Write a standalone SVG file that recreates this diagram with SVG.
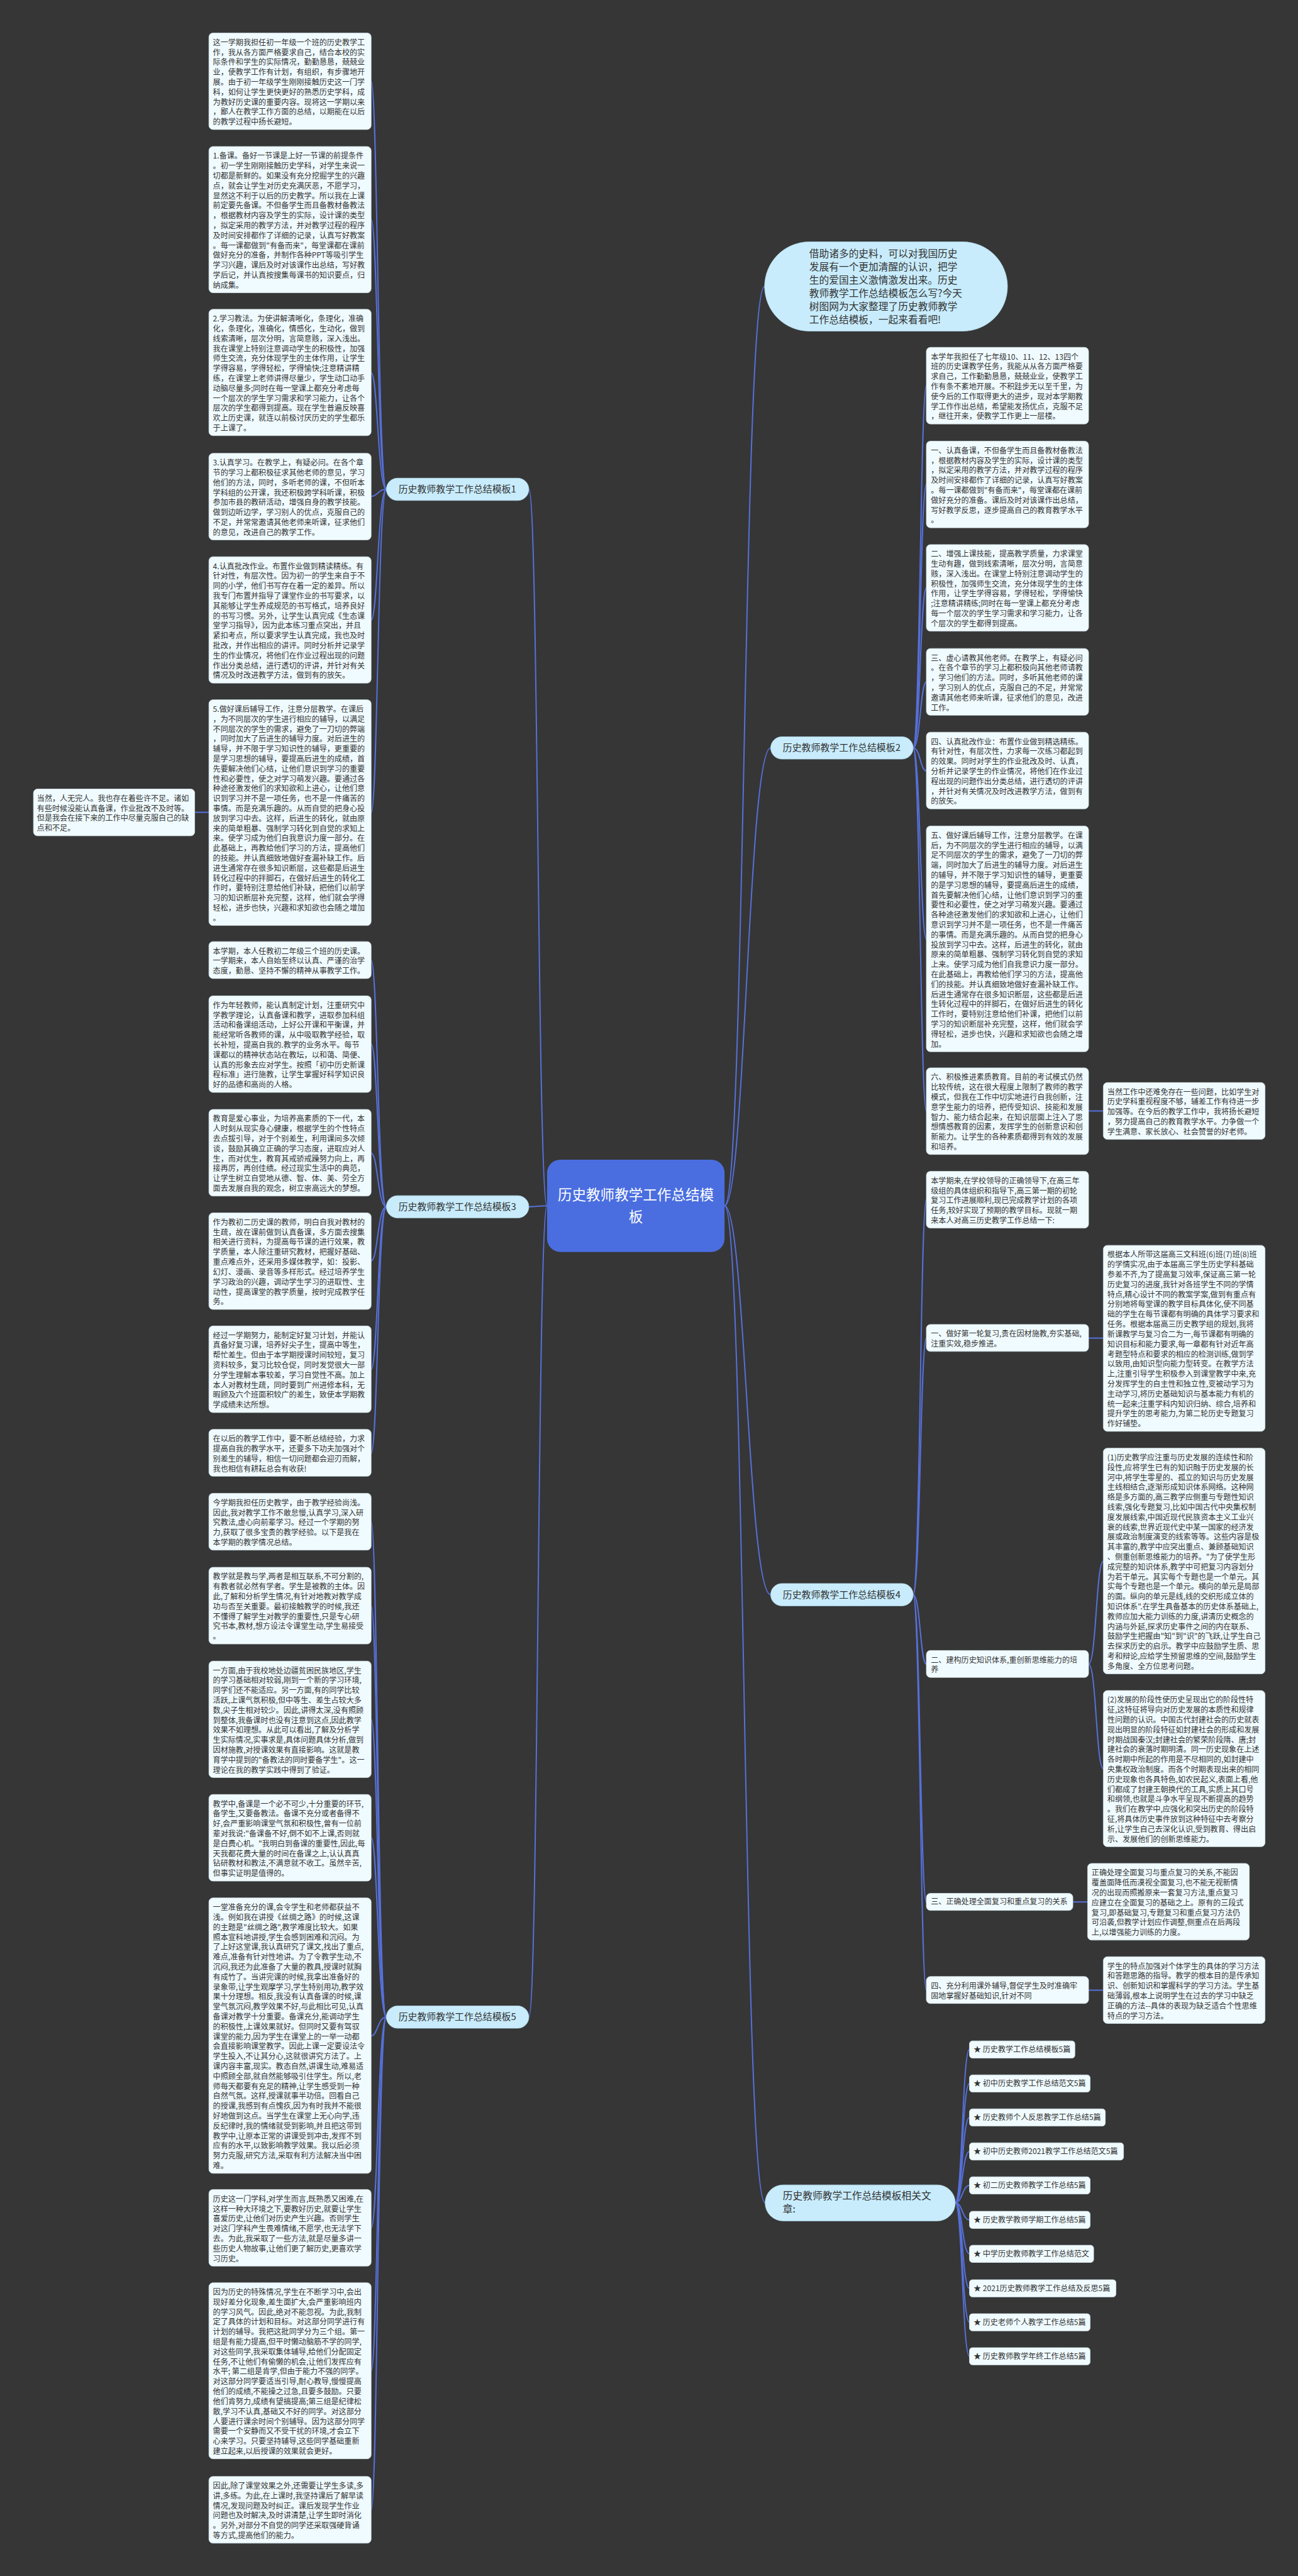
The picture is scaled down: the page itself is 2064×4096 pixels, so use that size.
<svg xmlns="http://www.w3.org/2000/svg" width="2064" height="4096" viewBox="0 0 2064 4096">
<style>
.bx{fill:#f0fbff;stroke:#d3e2e9;stroke-width:1}
.t{font-family:"Noto Sans CJK SC","Noto Sans",sans-serif;font-size:15px;fill:#333}
.lt{font-family:"Noto Sans CJK SC","Noto Sans",sans-serif;font-size:19.5px;fill:#333}
.bt{font-family:"Noto Sans CJK SC","Noto Sans",sans-serif;font-size:18.5px;fill:#333;text-anchor:middle}
.ct{font-family:"Noto Sans CJK SC","Noto Sans",sans-serif;font-size:28px;fill:#fff;text-anchor:middle}
.pill{fill:#c8ecfc;stroke:#b5dcee;stroke-width:1}
.ln{fill:none;stroke:#5670d8;stroke-width:2.5}
</style>
<rect x="0" y="0" width="2064" height="4096" fill="#363636"/>
<g transform="scale(0.80625)">
<g id="connectors">
<path class="ln" d="M1079,2378 C1060,2378 1062,965 1043,965"/>
<path class="ln" d="M1079,2378 C1060,2378 1062,2380 1043,2380"/>
<path class="ln" d="M1079,2378 C1060,2378 1062,3978 1043,3978"/>
<path class="ln" d="M1429,2378 C1470,2378 1465,565 1508,565"/>
<path class="ln" d="M1429,2378 C1470,2378 1475,1475 1520,1475"/>
<path class="ln" d="M1429,2378 C1470,2378 1475,3145 1520,3145"/>
<path class="ln" d="M1429,2378 C1470,2378 1465,4344 1509,4344"/>
<path class="ln" d="M762,965 C745,965 745,160 732,160"/>
<path class="ln" d="M762,965 C745,965 745,433 732,433"/>
<path class="ln" d="M762,965 C745,965 745,735 732,735"/>
<path class="ln" d="M762,965 C745,965 745,979 732,979"/>
<path class="ln" d="M762,965 C745,965 745,1223 732,1223"/>
<path class="ln" d="M762,965 C745,965 745,1603 732,1603"/>
<path class="ln" d="M412,1602 L384,1602"/>
<path class="ln" d="M762,2380 C745,2380 745,1894 732,1894"/>
<path class="ln" d="M762,2380 C745,2380 745,2059 732,2059"/>
<path class="ln" d="M762,2380 C745,2380 745,2274 732,2274"/>
<path class="ln" d="M762,2380 C745,2380 745,2487 732,2487"/>
<path class="ln" d="M762,2380 C745,2380 745,2701 732,2701"/>
<path class="ln" d="M762,2380 C745,2380 745,2866 732,2866"/>
<path class="ln" d="M762,3978 C745,3978 745,3001 732,3001"/>
<path class="ln" d="M762,3978 C745,3978 745,3167 732,3167"/>
<path class="ln" d="M762,3978 C745,3978 745,3391 732,3391"/>
<path class="ln" d="M762,3978 C745,3978 745,3624 732,3624"/>
<path class="ln" d="M762,3978 C745,3978 745,4015 732,4015"/>
<path class="ln" d="M762,3978 C745,3978 745,4394 732,4394"/>
<path class="ln" d="M762,3978 C745,3978 745,4676 732,4676"/>
<path class="ln" d="M762,3978 C745,3978 745,4950 732,4950"/>
<path class="ln" d="M1801,1475 C1815,1475 1815,761 1827,761"/>
<path class="ln" d="M1801,1475 C1815,1475 1815,955 1827,955"/>
<path class="ln" d="M1801,1475 C1815,1475 1815,1159 1827,1159"/>
<path class="ln" d="M1801,1475 C1815,1475 1815,1345 1827,1345"/>
<path class="ln" d="M1801,1475 C1815,1475 1815,1520 1827,1520"/>
<path class="ln" d="M1801,1475 C1815,1475 1815,1852 1827,1852"/>
<path class="ln" d="M1801,1475 C1815,1475 1815,2191 1827,2191"/>
<path class="ln" d="M2147,2191 L2176,2191"/>
<path class="ln" d="M1801,3145 C1815,3145 1815,2366 1827,2366"/>
<path class="ln" d="M1801,3145 C1815,3145 1815,2639 1827,2639"/>
<path class="ln" d="M1801,3145 C1815,3145 1815,3282 1827,3282"/>
<path class="ln" d="M1801,3145 C1815,3145 1815,3751 1827,3751"/>
<path class="ln" d="M1801,3145 C1815,3145 1815,3925 1827,3925"/>
<path class="ln" d="M2147,2639 L2176,2639"/>
<path class="ln" d="M2147,3282 C2162,3282 2162,3079 2176,3079"/>
<path class="ln" d="M2147,3282 C2162,3282 2162,3488 2176,3488"/>
<path class="ln" d="M2116,3751 L2145,3751"/>
<path class="ln" d="M2147,3925 L2176,3925"/>
<path class="ln" d="M1884,4344 C1898,4344 1898,4042 1912,4042"/>
<path class="ln" d="M1884,4344 C1898,4344 1898,4109 1912,4109"/>
<path class="ln" d="M1884,4344 C1898,4344 1898,4176 1912,4176"/>
<path class="ln" d="M1884,4344 C1898,4344 1898,4243 1912,4243"/>
<path class="ln" d="M1884,4344 C1898,4344 1898,4310 1912,4310"/>
<path class="ln" d="M1884,4344 C1898,4344 1898,4378 1912,4378"/>
<path class="ln" d="M1884,4344 C1898,4344 1898,4445 1912,4445"/>
<path class="ln" d="M1884,4344 C1898,4344 1898,4513 1912,4513"/>
<path class="ln" d="M1884,4344 C1898,4344 1898,4580 1912,4580"/>
<path class="ln" d="M1884,4344 C1898,4344 1898,4647 1912,4647"/>
</g>

<g id="center">
<rect x="1079" y="2287" width="350" height="182" rx="26" fill="#4a6ee0"/>
<text class="ct" x="1254" y="2366"><tspan x="1254">历史教师教学工作总结模</tspan><tspan x="1254" dy="44">板</tspan></text>
</g>

<g id="branch1"><rect class="pill" x="762" y="943" width="281" height="44" rx="22"/><text class="bt" x="902" y="971.5">历史教师教学工作总结模板1</text></g>
<g id="branch3"><rect class="pill" x="762" y="2358" width="281" height="44" rx="22"/><text class="bt" x="902" y="2386.5">历史教师教学工作总结模板3</text></g>
<g id="branch5"><rect class="pill" x="762" y="3956" width="281" height="44" rx="22"/><text class="bt" x="902" y="3984.5">历史教师教学工作总结模板5</text></g>
<g id="branch2"><rect class="pill" x="1520" y="1453" width="281" height="44" rx="22"/><text class="bt" x="1660" y="1481.5">历史教师教学工作总结模板2</text></g>
<g id="branch4"><rect class="pill" x="1520" y="3123" width="281" height="44" rx="22"/><text class="bt" x="1660" y="3151.5">历史教师教学工作总结模板4</text></g>

<g id="intro"><rect class="pill" x="1508" y="477" width="479" height="176" rx="88"/>
<text class="lt" x="1596" y="507"><tspan x="1596">借助诸多的史料，可以对我国历史</tspan><tspan x="1596" dy="26">发展有一个更加清醒的认识，把学</tspan><tspan x="1596" dy="26">生的爱国主义激情激发出来。历史</tspan><tspan x="1596" dy="26">教师教学工作总结模板怎么写?今天</tspan><tspan x="1596" dy="26">树图网为大家整理了历史教师教学</tspan><tspan x="1596" dy="26">工作总结模板，一起来看看吧!</tspan></text></g>

<g id="related"><rect class="pill" x="1509" y="4309" width="375" height="71" rx="35.5"/>
<text class="lt" x="1544" y="4338"><tspan x="1544">历史教师教学工作总结模板相关文</tspan><tspan x="1544" dy="26">章:</tspan></text></g>

<g id="nA"><rect class="bx" x="412" y="65" width="320" height="190.4" rx="8"/>
<text class="t" x="420" y="89"><tspan x="420">这一学期我担任初一年级一个班的历史教学工</tspan><tspan x="420" dy="19.6">作，我从各方面严格要求自己，结合本校的实</tspan><tspan x="420" dy="19.6">际条件和学生的实际情况，勤勤恳恳，兢兢业</tspan><tspan x="420" dy="19.6">业，使教学工作有计划，有组织，有步骤地开</tspan><tspan x="420" dy="19.6">展。由于初一年级学生刚刚接触历史这一门学</tspan><tspan x="420" dy="19.6">科，如何让学生更快更好的熟悉历史学科，成</tspan><tspan x="420" dy="19.6">为教好历史课的重要内容。现将这一学期以来</tspan><tspan x="420" dy="19.6">，鄙人在教学工作方面的总结，以期能在以后</tspan><tspan x="420" dy="19.6">的教学过程中扬长避短。</tspan></text></g>

<g id="nB"><rect class="bx" x="412" y="289" width="320" height="288.4" rx="8"/>
<text class="t" x="420" y="313"><tspan x="420">1.备课。备好一节课是上好一节课的前提条件</tspan><tspan x="420" dy="19.6">。初一学生刚刚接触历史学科，对学生来说一</tspan><tspan x="420" dy="19.6">切都是新鲜的。如果没有充分挖掘学生的兴趣</tspan><tspan x="420" dy="19.6">点，就会让学生对历史充满厌恶，不愿学习，</tspan><tspan x="420" dy="19.6">显然这不利于以后的历史教学。所以我在上课</tspan><tspan x="420" dy="19.6">前定要先备课。不但备学生而且备教材备教法</tspan><tspan x="420" dy="19.6">，根据教材内容及学生的实际，设计课的类型</tspan><tspan x="420" dy="19.6">，拟定采用的教学方法，并对教学过程的程序</tspan><tspan x="420" dy="19.6">及时间安排都作了详细的记录，认真写好教案</tspan><tspan x="420" dy="19.6">。每一课都做到"有备而来"，每堂课都在课前</tspan><tspan x="420" dy="19.6">做好充分的准备，并制作各种PPT等吸引学生</tspan><tspan x="420" dy="19.6">学习兴趣，课后及时对该课作出总结，写好教</tspan><tspan x="420" dy="19.6">学后记，并认真按搜集每课书的知识要点，归</tspan><tspan x="420" dy="19.6">纳成集。</tspan></text></g>

<g id="nC"><rect class="bx" x="412" y="610" width="320" height="249.2" rx="8"/>
<text class="t" x="420" y="634"><tspan x="420">2.学习教法。为使讲解清晰化，条理化，准确</tspan><tspan x="420" dy="19.6">化，条理化，准确化，情感化，生动化，做到</tspan><tspan x="420" dy="19.6">线索清晰，层次分明，言简意赅，深入浅出。</tspan><tspan x="420" dy="19.6">我在课堂上特别注意调动学生的积极性，加强</tspan><tspan x="420" dy="19.6">师生交流，充分体现学生的主体作用，让学生</tspan><tspan x="420" dy="19.6">学得容易，学得轻松，学得愉快;注意精讲精</tspan><tspan x="420" dy="19.6">练，在课堂上老师讲得尽量少，学生动口动手</tspan><tspan x="420" dy="19.6">动脑尽量多;同时在每一堂课上都充分考虑每</tspan><tspan x="420" dy="19.6">一个层次的学生学习需求和学习能力，让各个</tspan><tspan x="420" dy="19.6">层次的学生都得到提高。现在学生普遍反映喜</tspan><tspan x="420" dy="19.6">欢上历史课，就连以前极讨厌历史的学生都乐</tspan><tspan x="420" dy="19.6">于上课了。</tspan></text></g>

<g id="nD"><rect class="bx" x="412" y="894" width="320" height="170.8" rx="8"/>
<text class="t" x="420" y="918"><tspan x="420">3.认真学习。在教学上，有疑必问。在各个章</tspan><tspan x="420" dy="19.6">节的学习上都积极征求其他老师的意见，学习</tspan><tspan x="420" dy="19.6">他们的方法，同时，多听老师的课，不但听本</tspan><tspan x="420" dy="19.6">学科组的公开课，我还积极跨学科听课，积极</tspan><tspan x="420" dy="19.6">参加市县的教研活动，增强自身的教学技能。</tspan><tspan x="420" dy="19.6">做到边听边学，学习别人的优点，克服自己的</tspan><tspan x="420" dy="19.6">不足，并常常邀请其他老师来听课，征求他们</tspan><tspan x="420" dy="19.6">的意见，改进自己的教学工作。</tspan></text></g>

<g id="nE"><rect class="bx" x="412" y="1098" width="320" height="249.2" rx="8"/>
<text class="t" x="420" y="1122"><tspan x="420">4.认真批改作业。布置作业做到精读精练。有</tspan><tspan x="420" dy="19.6">针对性，有层次性。因为初一的学生来自于不</tspan><tspan x="420" dy="19.6">同的小学，他们书写存在着一定的差异。所以</tspan><tspan x="420" dy="19.6">我专门布置并指导了课堂作业的书写要求，以</tspan><tspan x="420" dy="19.6">其能够让学生养成规范的书写格式，培养良好</tspan><tspan x="420" dy="19.6">的书写习惯。另外，让学生认真完成《生态课</tspan><tspan x="420" dy="19.6">堂学习指导》，因为此本练习重点突出，并且</tspan><tspan x="420" dy="19.6">紧扣考点，所以要求学生认真完成，我也及时</tspan><tspan x="420" dy="19.6">批改，并作出相应的讲评。同时分析并记录学</tspan><tspan x="420" dy="19.6">生的作业情况，将他们在作业过程出现的问题</tspan><tspan x="420" dy="19.6">作出分类总结，进行透切的评讲，并针对有关</tspan><tspan x="420" dy="19.6">情况及时改进教学方法，做到有的放矢。</tspan></text></g>

<g id="nF"><rect class="bx" x="412" y="1380" width="320" height="445.2" rx="8"/>
<text class="t" x="420" y="1404"><tspan x="420">5.做好课后辅导工作，注意分层教学。在课后</tspan><tspan x="420" dy="19.6">，为不同层次的学生进行相应的辅导，以满足</tspan><tspan x="420" dy="19.6">不同层次的学生的需求，避免了一刀切的弊端</tspan><tspan x="420" dy="19.6">，同时加大了后进生的辅导力度。对后进生的</tspan><tspan x="420" dy="19.6">辅导，并不限于学习知识性的辅导，更重要的</tspan><tspan x="420" dy="19.6">是学习思想的辅导，要提高后进生的成绩，首</tspan><tspan x="420" dy="19.6">先要解决他们心结，让他们意识到学习的重要</tspan><tspan x="420" dy="19.6">性和必要性，使之对学习萌发兴趣。要通过各</tspan><tspan x="420" dy="19.6">种途径激发他们的求知欲和上进心，让他们意</tspan><tspan x="420" dy="19.6">识到学习并不是一项任务，也不是一件痛苦的</tspan><tspan x="420" dy="19.6">事情。而是充满乐趣的。从而自觉的把身心投</tspan><tspan x="420" dy="19.6">放到学习中去。这样，后进生的转化，就由原</tspan><tspan x="420" dy="19.6">来的简单粗暴、强制学习转化到自觉的求知上</tspan><tspan x="420" dy="19.6">来。使学习成为他们自我意识力度一部分。在</tspan><tspan x="420" dy="19.6">此基础上，再教给他们学习的方法，提高他们</tspan><tspan x="420" dy="19.6">的技能。并认真细致地做好查漏补缺工作。后</tspan><tspan x="420" dy="19.6">进生通常存在很多知识断层，这些都是后进生</tspan><tspan x="420" dy="19.6">转化过程中的拌脚石，在做好后进生的转化工</tspan><tspan x="420" dy="19.6">作时，要特别注意给他们补缺，把他们以前学</tspan><tspan x="420" dy="19.6">习的知识断层补充完整，这样，他们就会学得</tspan><tspan x="420" dy="19.6">轻松，进步也快，兴趣和求知欲也会随之增加</tspan><tspan x="420" dy="19.6">。</tspan></text></g>

<g id="nG"><rect class="bx" x="66" y="1556" width="318" height="92.4" rx="8"/>
<text class="t" x="73" y="1580"><tspan x="73">当然，人无完人。我也存在着些许不足。诸如</tspan><tspan x="73" dy="19.6">有些时候没能认真备课，作业批改不及时等。</tspan><tspan x="73" dy="19.6">但是我会在接下来的工作中尽量克服自己的缺</tspan><tspan x="73" dy="19.6">点和不足。</tspan></text></g>

<g id="nH"><rect class="bx" x="412" y="1857" width="320" height="72.8" rx="8"/>
<text class="t" x="420" y="1881"><tspan x="420">本学期，本人任教初二年级三个班的历史课。</tspan><tspan x="420" dy="19.6">一学期来，本人自始至终以认真、严谨的治学</tspan><tspan x="420" dy="19.6">态度，勤恳、坚持不懈的精神从事教学工作。</tspan></text></g>

<g id="nI"><rect class="bx" x="412" y="1964" width="320" height="190.4" rx="8"/>
<text class="t" x="420" y="1988"><tspan x="420">作为年轻教师，能认真制定计划，注重研究中</tspan><tspan x="420" dy="19.6">学教学理论，认真备课和教学，进取参加科组</tspan><tspan x="420" dy="19.6">活动和备课组活动，上好公开课和平衡课，并</tspan><tspan x="420" dy="19.6">能经常听各教师的课，从中吸取教学经验，取</tspan><tspan x="420" dy="19.6">长补短，提高自我的.教学的业务水平。每节</tspan><tspan x="420" dy="19.6">课都以的精神状态站在教坛，以和蔼、简便、</tspan><tspan x="420" dy="19.6">认真的形象去应对学生。按照「初中历史新课</tspan><tspan x="420" dy="19.6">程标准」进行施教，让学生掌握好科学知识良</tspan><tspan x="420" dy="19.6">好的品德和高尚的人格。</tspan></text></g>

<g id="nJ"><rect class="bx" x="412" y="2188" width="320" height="170.8" rx="8"/>
<text class="t" x="420" y="2212"><tspan x="420">教育是爱心事业，为培养高素质的下一代，本</tspan><tspan x="420" dy="19.6">人时刻从现实身心健康，根据学生的个性特点</tspan><tspan x="420" dy="19.6">去点拔引导，对于个别差生，利用课间多次倾</tspan><tspan x="420" dy="19.6">谈，鼓励其确立正确的学习态度，进取应对人</tspan><tspan x="420" dy="19.6">生，而对优生，教育其戒骄戒躁努力向上，再</tspan><tspan x="420" dy="19.6">接再厉，再创佳绩。经过现实生活中的典范，</tspan><tspan x="420" dy="19.6">让学生树立自觉地从德、智、体、美、劳全方</tspan><tspan x="420" dy="19.6">面去发展自我的观念，树立崇高远大的梦想。</tspan></text></g>

<g id="nK"><rect class="bx" x="412" y="2392" width="320" height="190.4" rx="8"/>
<text class="t" x="420" y="2416"><tspan x="420">作为教初二历史课的教师，明白自我对教材的</tspan><tspan x="420" dy="19.6">生疏，故在课前做到认真备课，多方面去搜集</tspan><tspan x="420" dy="19.6">相关进行资料，为提高每节课的进行效果，教</tspan><tspan x="420" dy="19.6">学质量，本人除注重研究教材，把握好基础、</tspan><tspan x="420" dy="19.6">重点难点外，还采用多媒体教学，如：投影、</tspan><tspan x="420" dy="19.6">幻灯、漫画、录音等多样形式。经过培养学生</tspan><tspan x="420" dy="19.6">学习政治的兴趣，调动学生学习的进取性、主</tspan><tspan x="420" dy="19.6">动性，提高课堂的教学质量，按时完成教学任</tspan><tspan x="420" dy="19.6">务。</tspan></text></g>

<g id="nL"><rect class="bx" x="412" y="2615" width="320" height="170.8" rx="8"/>
<text class="t" x="420" y="2639"><tspan x="420">经过一学期努力，能制定好复习计划，并能认</tspan><tspan x="420" dy="19.6">真备好复习课，培养好尖子生，提高中等生，</tspan><tspan x="420" dy="19.6">帮忙差生。但由于本学期授课时间较短，复习</tspan><tspan x="420" dy="19.6">资料较多，复习比较仓促，同时发觉很大一部</tspan><tspan x="420" dy="19.6">分学生理解本事较差，学习自觉性不高。加上</tspan><tspan x="420" dy="19.6">本人对教材生疏，同时要到广州进修本科，无</tspan><tspan x="420" dy="19.6">暇顾及六个班面积较广的差生，致使本学期教</tspan><tspan x="420" dy="19.6">学成绩未达所想。</tspan></text></g>

<g id="nM"><rect class="bx" x="412" y="2819" width="320" height="92.4" rx="8"/>
<text class="t" x="420" y="2843"><tspan x="420">在以后的教学工作中，要不断总结经验，力求</tspan><tspan x="420" dy="19.6">提高自我的教学水平，还要多下功夫加强对个</tspan><tspan x="420" dy="19.6">别差生的辅导，相信一切问题都会迎刃而解，</tspan><tspan x="420" dy="19.6">我也相信有耕耘总会有收获!</tspan></text></g>

<g id="nN"><rect class="bx" x="412" y="2945" width="320" height="112" rx="8"/>
<text class="t" x="420" y="2969"><tspan x="420">今学期我担任历史教学，由于教学经验尚浅。</tspan><tspan x="420" dy="19.6">因此,我对教学工作不敢怠慢,认真学习,深入研</tspan><tspan x="420" dy="19.6">究教法,虚心向前辈学习。经过一个学期的努</tspan><tspan x="420" dy="19.6">力,获取了很多宝贵的教学经验。以下是我在</tspan><tspan x="420" dy="19.6">本学期的教学情况总结。</tspan></text></g>

<g id="nO"><rect class="bx" x="412" y="3091" width="320" height="151.2" rx="8"/>
<text class="t" x="420" y="3115"><tspan x="420">教学就是教与学,两者是相互联系,不可分割的,</tspan><tspan x="420" dy="19.6">有教者就必然有学者。学生是被教的主体。因</tspan><tspan x="420" dy="19.6">此,了解和分析学生情况,有针对地教对教学成</tspan><tspan x="420" dy="19.6">功与否至关重要。最初接触教学的时候,我还</tspan><tspan x="420" dy="19.6">不懂得了解学生对教学的重要性,只是专心研</tspan><tspan x="420" dy="19.6">究书本,教材,想方设法令课堂生动,学生易接受</tspan><tspan x="420" dy="19.6">。</tspan></text></g>

<g id="nP"><rect class="bx" x="412" y="3276" width="320" height="229.6" rx="8"/>
<text class="t" x="420" y="3300"><tspan x="420">一方面,由于我校地处边疆贫困民族地区,学生</tspan><tspan x="420" dy="19.6">的学习基础相对较弱,刚到一个新的学习环境,</tspan><tspan x="420" dy="19.6">同学们还不能适应。另一方面,有的同学比较</tspan><tspan x="420" dy="19.6">活跃,上课气氛积极,但中等生、差生占较大多</tspan><tspan x="420" dy="19.6">数,尖子生相对较少。因此,讲得太深,没有照顾</tspan><tspan x="420" dy="19.6">到整体,我备课时也没有注意到这点,因此教学</tspan><tspan x="420" dy="19.6">效果不如理想。从此可以看出,了解及分析学</tspan><tspan x="420" dy="19.6">生实际情况,实事求是,具体问题具体分析,做到</tspan><tspan x="420" dy="19.6">因材施教,对授课效果有直接影响。这就是教</tspan><tspan x="420" dy="19.6">育学中提到的"备教法的同时要备学生"。这一</tspan><tspan x="420" dy="19.6">理论在我的教学实践中得到了验证。</tspan></text></g>

<g id="nQ"><rect class="bx" x="412" y="3539" width="320" height="170.8" rx="8"/>
<text class="t" x="420" y="3563"><tspan x="420">教学中,备课是一个必不可少,十分重要的环节,</tspan><tspan x="420" dy="19.6">备学生,又要备教法。备课不充分或者备得不</tspan><tspan x="420" dy="19.6">好,会严重影响课堂气氛和积极性,曾有一位前</tspan><tspan x="420" dy="19.6">辈对我说:"备课备不好,倒不如不上课,否则就</tspan><tspan x="420" dy="19.6">是白费心机。"我明白到备课的重要性,因此,每</tspan><tspan x="420" dy="19.6">天我都花费大量的时间在备课之上,认认真真</tspan><tspan x="420" dy="19.6">钻研教材和教法,不满意就不收工。虽然辛苦,</tspan><tspan x="420" dy="19.6">但事实证明是值得的。</tspan></text></g>

<g id="nR"><rect class="bx" x="412" y="3743" width="320" height="543.2" rx="8"/>
<text class="t" x="420" y="3767"><tspan x="420">一堂准备充分的课,会令学生和老师都获益不</tspan><tspan x="420" dy="19.6">浅。例如我在讲授《丝绸之路》的时候,这课</tspan><tspan x="420" dy="19.6">的主题是"丝绸之路",教学难度比较大。如果</tspan><tspan x="420" dy="19.6">照本宣科地讲授,学生会感到困难和沉闷。为</tspan><tspan x="420" dy="19.6">了上好这堂课,我认真研究了课文,找出了重点,</tspan><tspan x="420" dy="19.6">难点,准备有针对性地讲。为了令教学生动,不</tspan><tspan x="420" dy="19.6">沉闷,我还为此准备了大量的教具,授课时就胸</tspan><tspan x="420" dy="19.6">有成竹了。当讲完课的时候,我拿出准备好的</tspan><tspan x="420" dy="19.6">录象带,让学生观摩学习,学生特别用功,教学效</tspan><tspan x="420" dy="19.6">果十分理想。相反,我没有认真备课的时候,课</tspan><tspan x="420" dy="19.6">堂气氛沉闷,教学效果不好,与此相比可见,认真</tspan><tspan x="420" dy="19.6">备课对教学十分重要。备课充分,能调动学生</tspan><tspan x="420" dy="19.6">的积极性,上课效果就好。但同时又要有驾驭</tspan><tspan x="420" dy="19.6">课堂的能力,因为学生在课堂上的一举一动都</tspan><tspan x="420" dy="19.6">会直接影响课堂教学。因此上课一定要设法令</tspan><tspan x="420" dy="19.6">学生投入,不让其分心,这就很讲究方法了。上</tspan><tspan x="420" dy="19.6">课内容丰富,现实。教态自然,讲课生动,难易适</tspan><tspan x="420" dy="19.6">中照顾全部,就自然能够吸引住学生。所以,老</tspan><tspan x="420" dy="19.6">师每天都要有充足的精神,让学生感受到一种</tspan><tspan x="420" dy="19.6">自然气氛。这样,授课就事半功倍。回看自己</tspan><tspan x="420" dy="19.6">的授课,我感到有点愧疚,因为有时我并不能很</tspan><tspan x="420" dy="19.6">好地做到这点。当学生在课堂上无心向学,违</tspan><tspan x="420" dy="19.6">反纪律时,我的情绪就受到影响,并且把这带到</tspan><tspan x="420" dy="19.6">教学中,让原本正常的讲课受到冲击,发挥不到</tspan><tspan x="420" dy="19.6">应有的水平,以致影响教学效果。我以后必须</tspan><tspan x="420" dy="19.6">努力克服,研究方法,采取有利方法解决当中困</tspan><tspan x="420" dy="19.6">难。</tspan></text></g>

<g id="nS"><rect class="bx" x="412" y="4318" width="320" height="151.2" rx="8"/>
<text class="t" x="420" y="4342"><tspan x="420">历史这一门学科,对学生而言,既熟悉又困难,在</tspan><tspan x="420" dy="19.6">这样一种大环境之下,要教好历史,就要让学生</tspan><tspan x="420" dy="19.6">喜爱历史,让他们对历史产生兴趣。否则学生</tspan><tspan x="420" dy="19.6">对这门学科产生畏难情绪,不愿学,也无法学下</tspan><tspan x="420" dy="19.6">去。为此,我采取了一些方法,就是尽量多讲一</tspan><tspan x="420" dy="19.6">些历史人物故事,让他们更了解历史,更喜欢学</tspan><tspan x="420" dy="19.6">习历史。</tspan></text></g>

<g id="nT"><rect class="bx" x="412" y="4502" width="320" height="347.2" rx="8"/>
<text class="t" x="420" y="4526"><tspan x="420">因为历史的特殊情况,学生在不断学习中,会出</tspan><tspan x="420" dy="19.6">现好差分化现象,差生面扩大,会严重影响班内</tspan><tspan x="420" dy="19.6">的学习风气。因此,绝对不能忽视。为此,我制</tspan><tspan x="420" dy="19.6">定了具体的计划和目标。对这部分同学进行有</tspan><tspan x="420" dy="19.6">计划的辅导。我把这批同学分为三个组。第一</tspan><tspan x="420" dy="19.6">组是有能力提高,但平时懒动脑筋不学的同学,</tspan><tspan x="420" dy="19.6">对这些同学,我采取集体辅导,给他们分配固定</tspan><tspan x="420" dy="19.6">任务,不让他们有偷懒的机会,让他们发挥应有</tspan><tspan x="420" dy="19.6">水平; 第二组是肯学,但由于能力不强的同学。</tspan><tspan x="420" dy="19.6">对这部分同学要适当引导,耐心教导,慢慢提高</tspan><tspan x="420" dy="19.6">他们的成绩,不能操之过急,且要多鼓励。只要</tspan><tspan x="420" dy="19.6">他们肯努力,成绩有望搞提高;第三组是纪律松</tspan><tspan x="420" dy="19.6">散,学习不认真,基础又不好的同学。对这部分</tspan><tspan x="420" dy="19.6">人要进行课余时间个别辅导。因为这部分同学</tspan><tspan x="420" dy="19.6">需要一个安静而又不受干扰的环境,才会立下</tspan><tspan x="420" dy="19.6">心来学习。只要坚持辅导,这些同学基础重新</tspan><tspan x="420" dy="19.6">建立起来,以后授课的效果就会更好。</tspan></text></g>

<g id="nU"><rect class="bx" x="412" y="4884" width="320" height="131.6" rx="8"/>
<text class="t" x="420" y="4908"><tspan x="420">因此,除了课堂效果之外,还需要让学生多读,多</tspan><tspan x="420" dy="19.6">讲,多练。为此,在上课时,我坚持课后了解早读</tspan><tspan x="420" dy="19.6">情况,发现问题及时纠正。课后发现学生作业</tspan><tspan x="420" dy="19.6">问题也及时解决,及时讲清楚,让学生即时消化</tspan><tspan x="420" dy="19.6">。另外,对部分不自觉的同学还采取强硬背诵</tspan><tspan x="420" dy="19.6">等方式,提高他们的能力。</tspan></text></g>

<g id="r1"><rect class="bx" x="1827" y="685" width="320" height="151.2" rx="8"/>
<text class="t" x="1836" y="709"><tspan x="1836">本学年我担任了七年级10、11、12、13四个</tspan><tspan x="1836" dy="19.6">班的历史课教学任务，我能从从各方面严格要</tspan><tspan x="1836" dy="19.6">求自己，工作勤勤恳恳，兢兢业业，使教学工</tspan><tspan x="1836" dy="19.6">作有条不紊地开展。不积跬步无以至千里，为</tspan><tspan x="1836" dy="19.6">使今后的工作取得更大的进步，现对本学期教</tspan><tspan x="1836" dy="19.6">学工作作出总结，希望能发扬优点，克服不足</tspan><tspan x="1836" dy="19.6">，继往开来，使教学工作更上一层楼。</tspan></text></g>

<g id="r2"><rect class="bx" x="1827" y="870" width="320" height="170.8" rx="8"/>
<text class="t" x="1836" y="894"><tspan x="1836">一、认真备课，不但备学生而且备教材备教法</tspan><tspan x="1836" dy="19.6">，根据教材内容及学生的实际，设计课的类型</tspan><tspan x="1836" dy="19.6">，拟定采用的教学方法，并对教学过程的程序</tspan><tspan x="1836" dy="19.6">及时间安排都作了详细的记录，认真写好教案</tspan><tspan x="1836" dy="19.6">。每一课都做到"有备而来"，每堂课都在课前</tspan><tspan x="1836" dy="19.6">做好充分的准备。课后及时对该课作出总结，</tspan><tspan x="1836" dy="19.6">写好教学反思，逐步提高自己的教育教学水平</tspan><tspan x="1836" dy="19.6">。</tspan></text></g>

<g id="r3"><rect class="bx" x="1827" y="1074" width="320" height="170.8" rx="8"/>
<text class="t" x="1836" y="1098"><tspan x="1836">二、增强上课技能，提高教学质量，力求课堂</tspan><tspan x="1836" dy="19.6">生动有趣，做到线索清晰，层次分明，言简意</tspan><tspan x="1836" dy="19.6">赅，深入浅出。在课堂上特别注意调动学生的</tspan><tspan x="1836" dy="19.6">积极性，加强师生交流，充分体现学生的主体</tspan><tspan x="1836" dy="19.6">作用，让学生学得容易，学得轻松，学得愉快</tspan><tspan x="1836" dy="19.6">;注意精讲精练;同时在每一堂课上都充分考虑</tspan><tspan x="1836" dy="19.6">每一个层次的学生学习需求和学习能力，让各</tspan><tspan x="1836" dy="19.6">个层次的学生都得到提高。</tspan></text></g>

<g id="r4"><rect class="bx" x="1827" y="1279" width="320" height="131.6" rx="8"/>
<text class="t" x="1836" y="1303"><tspan x="1836">三、虚心请教其他老师。在教学上，有疑必问</tspan><tspan x="1836" dy="19.6">。在各个章节的学习上都积极向其他老师请教</tspan><tspan x="1836" dy="19.6">，学习他们的方法。同时，多听其他老师的课</tspan><tspan x="1836" dy="19.6">，学习别人的优点，克服自己的不足，并常常</tspan><tspan x="1836" dy="19.6">邀请其他老师来听课，征求他们的意见，改进</tspan><tspan x="1836" dy="19.6">工作。</tspan></text></g>

<g id="r5"><rect class="bx" x="1827" y="1444" width="320" height="151.2" rx="8"/>
<text class="t" x="1836" y="1468"><tspan x="1836">四、认真批改作业：布置作业做到精选精练。</tspan><tspan x="1836" dy="19.6">有针对性，有层次性，力求每一次练习都起到</tspan><tspan x="1836" dy="19.6">的效果。同时对学生的作业批改及时、认真，</tspan><tspan x="1836" dy="19.6">分析并记录学生的作业情况，将他们在作业过</tspan><tspan x="1836" dy="19.6">程出现的问题作出分类总结，进行透切的评讲</tspan><tspan x="1836" dy="19.6">，并针对有关情况及时改进教学方法，做到有</tspan><tspan x="1836" dy="19.6">的放矢。</tspan></text></g>

<g id="r6"><rect class="bx" x="1827" y="1629" width="320" height="445.2" rx="8"/>
<text class="t" x="1836" y="1653"><tspan x="1836">五、做好课后辅导工作，注意分层教学。在课</tspan><tspan x="1836" dy="19.6">后，为不同层次的学生进行相应的辅导，以满</tspan><tspan x="1836" dy="19.6">足不同层次的学生的需求，避免了一刀切的弊</tspan><tspan x="1836" dy="19.6">端，同时加大了后进生的辅导力度。对后进生</tspan><tspan x="1836" dy="19.6">的辅导，并不限于学习知识性的辅导，更重要</tspan><tspan x="1836" dy="19.6">的是学习思想的辅导，要提高后进生的成绩，</tspan><tspan x="1836" dy="19.6">首先要解决他们心结，让他们意识到学习的重</tspan><tspan x="1836" dy="19.6">要性和必要性，使之对学习萌发兴趣。要通过</tspan><tspan x="1836" dy="19.6">各种途径激发他们的求知欲和上进心，让他们</tspan><tspan x="1836" dy="19.6">意识到学习并不是一项任务，也不是一件痛苦</tspan><tspan x="1836" dy="19.6">的事情。而是充满乐趣的。从而自觉的把身心</tspan><tspan x="1836" dy="19.6">投放到学习中去。这样，后进生的转化，就由</tspan><tspan x="1836" dy="19.6">原来的简单粗暴、强制学习转化到自觉的求知</tspan><tspan x="1836" dy="19.6">上来。使学习成为他们自我意识力度一部分。</tspan><tspan x="1836" dy="19.6">在此基础上，再教给他们学习的方法，提高他</tspan><tspan x="1836" dy="19.6">们的技能。并认真细致地做好查漏补缺工作。</tspan><tspan x="1836" dy="19.6">后进生通常存在很多知识断层，这些都是后进</tspan><tspan x="1836" dy="19.6">生转化过程中的拌脚石，在做好后进生的转化</tspan><tspan x="1836" dy="19.6">工作时，要特别注意给他们补课，把他们以前</tspan><tspan x="1836" dy="19.6">学习的知识断层补充完整，这样，他们就会学</tspan><tspan x="1836" dy="19.6">得轻松，进步也快，兴趣和求知欲也会随之增</tspan><tspan x="1836" dy="19.6">加。</tspan></text></g>

<g id="r7"><rect class="bx" x="1827" y="2106" width="320" height="170.8" rx="8"/>
<text class="t" x="1836" y="2130"><tspan x="1836">六、积极推进素质教育。目前的考试模式仍然</tspan><tspan x="1836" dy="19.6">比较传统，这在很大程度上限制了教师的教学</tspan><tspan x="1836" dy="19.6">模式，但我在工作中切实地进行自我创新，注</tspan><tspan x="1836" dy="19.6">意学生能力的培养，把传受知识、技能和发展</tspan><tspan x="1836" dy="19.6">智力、能力结合起来，在知识层面上注入了思</tspan><tspan x="1836" dy="19.6">想情感教育的因素，发挥学生的创新意识和创</tspan><tspan x="1836" dy="19.6">新能力。让学生的各种素质都得到有效的发展</tspan><tspan x="1836" dy="19.6">和培养。</tspan></text></g>

<g id="r8"><rect class="bx" x="2176" y="2135" width="319" height="112" rx="8"/>
<text class="t" x="2184" y="2159"><tspan x="2184">当然工作中还难免存在一些问题，比如学生对</tspan><tspan x="2184" dy="19.6">历史学科重视程度不够，辅差工作有待进一步</tspan><tspan x="2184" dy="19.6">加强等。在今后的教学工作中，我将扬长避短</tspan><tspan x="2184" dy="19.6">，努力提高自己的教育教学水平。力争做一个</tspan><tspan x="2184" dy="19.6">学生满意、家长放心、社会赞誉的好老师。</tspan></text></g>

<g id="r9"><rect class="bx" x="1827" y="2310" width="320" height="112" rx="8"/>
<text class="t" x="1836" y="2334"><tspan x="1836">本学期来,在学校领导的正确领导下,在高三年</tspan><tspan x="1836" dy="19.6">级组的具体组织和指导下,高三第一期的初轮</tspan><tspan x="1836" dy="19.6">复习工作进展顺利,现已完成教学计划的各项</tspan><tspan x="1836" dy="19.6">任务,较好实现了预期的教学目标。现就一期</tspan><tspan x="1836" dy="19.6">来本人对高三历史教学工作总结一下:</tspan></text></g>

<g id="s1"><rect class="bx" x="1827" y="2612" width="320" height="53.2" rx="8"/>
<text class="t" x="1836" y="2636"><tspan x="1836">一、做好第一轮复习,贵在因材施教,夯实基础,</tspan><tspan x="1836" dy="19.6">注重实效,稳步推进。</tspan></text></g>

<g id="r10"><rect class="bx" x="2176" y="2456" width="319" height="366.8" rx="8"/>
<text class="t" x="2184" y="2480"><tspan x="2184">根据本人所带这届高三文科班(6)班(7)班(8)班</tspan><tspan x="2184" dy="19.6">的学情实况,由于本届高三学生历史学科基础</tspan><tspan x="2184" dy="19.6">参差不齐,为了提高复习效率,保证高三第一轮</tspan><tspan x="2184" dy="19.6">历史复习的进度,我针对各班学生不同的学情</tspan><tspan x="2184" dy="19.6">特点,精心设计不同的教案学案,做到有重点有</tspan><tspan x="2184" dy="19.6">分别地将每堂课的教学目标具体化,使不同基</tspan><tspan x="2184" dy="19.6">础的学生在每节课都有明确的具体学习要求和</tspan><tspan x="2184" dy="19.6">任务。根据本届高三历史教学组的规划,我将</tspan><tspan x="2184" dy="19.6">新课教学与复习合二为一,每节课都有明确的</tspan><tspan x="2184" dy="19.6">知识目标和能力要求,每一章都有针对近年高</tspan><tspan x="2184" dy="19.6">考题型特点和要求的相应的检测训练,做到学</tspan><tspan x="2184" dy="19.6">以致用,由知识型向能力型转变。在教学方法</tspan><tspan x="2184" dy="19.6">上,注重引导学生积极参入到课堂教学中来,充</tspan><tspan x="2184" dy="19.6">分发挥学生的自主性和独立性,变被动学习为</tspan><tspan x="2184" dy="19.6">主动学习,将历史基础知识与基本能力有机的</tspan><tspan x="2184" dy="19.6">统一起来;注重学科内知识归纳、综合,培养和</tspan><tspan x="2184" dy="19.6">提升学生的思考能力,为第二轮历史专题复习</tspan><tspan x="2184" dy="19.6">作好铺垫。</tspan></text></g>

<g id="r11"><rect class="bx" x="2176" y="2856" width="319" height="445.2" rx="8"/>
<text class="t" x="2184" y="2880"><tspan x="2184">(1)历史教学应注重与历史发展的连续性和阶</tspan><tspan x="2184" dy="19.6">段性,应将学生已有的知识融于历史发展的长</tspan><tspan x="2184" dy="19.6">河中,将学生零星的、孤立的知识与历史发展</tspan><tspan x="2184" dy="19.6">主线相结合,逐渐形成知识体系网络。这种网</tspan><tspan x="2184" dy="19.6">络是多方面的,高三教学应侧重与专题性知识</tspan><tspan x="2184" dy="19.6">线索,强化专题复习,比如中国古代中央集权制</tspan><tspan x="2184" dy="19.6">度发展线索,中国近现代民族资本主义工业兴</tspan><tspan x="2184" dy="19.6">衰的线索,世界近现代史中某一国家的经济发</tspan><tspan x="2184" dy="19.6">展或政治制度演变的线索等等。这些内容是极</tspan><tspan x="2184" dy="19.6">其丰富的,教学中应突出重点、兼顾基础知识</tspan><tspan x="2184" dy="19.6">、侧重创新思维能力的培养。"为了使学生形</tspan><tspan x="2184" dy="19.6">成完整的知识体系,教学中可把复习内容划分</tspan><tspan x="2184" dy="19.6">为若干单元。其实每个专题也是一个单元。其</tspan><tspan x="2184" dy="19.6">实每个专题也是一个单元。横向的单元是局部</tspan><tspan x="2184" dy="19.6">的面。纵向的单元是线,线的交织形成立体的</tspan><tspan x="2184" dy="19.6">知识体系".在学生具备基本的历史体系基础上,</tspan><tspan x="2184" dy="19.6">教师应加大能力训练的力度,讲清历史概念的</tspan><tspan x="2184" dy="19.6">内涵与外延,探求历史事件之间的内在联系、</tspan><tspan x="2184" dy="19.6">鼓励学生把握由"知"到"识"的飞跃,让学生自己</tspan><tspan x="2184" dy="19.6">去探求历史的启示。教学中应鼓励学生质、思</tspan><tspan x="2184" dy="19.6">考和辩论,应给学生预留思维的空间,鼓励学生</tspan><tspan x="2184" dy="19.6">多角度、全方位思考问题。</tspan></text></g>

<g id="s2"><rect class="bx" x="1827" y="3255" width="320" height="53.2" rx="8"/>
<text class="t" x="1836" y="3279"><tspan x="1836">二、建构历史知识体系,重创新思维能力的培</tspan><tspan x="1836" dy="19.6">养</tspan></text></g>

<g id="r12"><rect class="bx" x="2176" y="3334" width="319" height="308" rx="8"/>
<text class="t" x="2184" y="3358"><tspan x="2184">(2)发展的阶段性使历史呈现出它的阶段性特</tspan><tspan x="2184" dy="19.6">征,这特征将导向对历史发展的本质性和规律</tspan><tspan x="2184" dy="19.6">性问题的认识。中国古代封建社会的历史就表</tspan><tspan x="2184" dy="19.6">现出明显的阶段特征如封建社会的形成和发展</tspan><tspan x="2184" dy="19.6">时期战国秦汉;封建社会的繁荣阶段隋、唐;封</tspan><tspan x="2184" dy="19.6">建社会的衰落时期明清。同一历史现象在上述</tspan><tspan x="2184" dy="19.6">各时期中所起的作用是不尽相同的,如封建中</tspan><tspan x="2184" dy="19.6">央集权政治制度。而各个时期表现出来的相同</tspan><tspan x="2184" dy="19.6">历史现象也各具特色,如农民起义,表面上看,他</tspan><tspan x="2184" dy="19.6">们都成了封建王朝换代的工具,实质上其口号</tspan><tspan x="2184" dy="19.6">和纲领,也就是斗争水平呈现不断提高的趋势</tspan><tspan x="2184" dy="19.6">。我们在教学中,应强化和突出历史的阶段特</tspan><tspan x="2184" dy="19.6">征,将具体历史事件放到这种特征中去考察分</tspan><tspan x="2184" dy="19.6">析,让学生自己去深化认识,受到教育、得出启</tspan><tspan x="2184" dy="19.6">示、发展他们的创新思维能力。</tspan></text></g>

<g id="s3"><rect class="bx" x="1827" y="3734" width="289" height="33.6" rx="8"/>
<text class="t" x="1836" y="3756"><tspan x="1836">三、正确处理全面复习和重点复习的关系</tspan></text></g>

<g id="r13"><rect class="bx" x="2145" y="3675" width="319" height="151.2" rx="8"/>
<text class="t" x="2153" y="3699"><tspan x="2153">正确处理全面复习与重点复习的关系,不能因</tspan><tspan x="2153" dy="19.6">覆盖面降低而漠视全面复习,也不能无视新情</tspan><tspan x="2153" dy="19.6">况的出现而照搬原来一套复习方法,重点复习</tspan><tspan x="2153" dy="19.6">应建立在全面复习的基础之上。原有的三段式</tspan><tspan x="2153" dy="19.6">复习,即基础复习,专题复习和重点复习方法仍</tspan><tspan x="2153" dy="19.6">可沿袭,但教学计划应作调整,侧重点在后两段</tspan><tspan x="2153" dy="19.6">上,以增强能力训练的力度。</tspan></text></g>

<g id="s4"><rect class="bx" x="1827" y="3898" width="320" height="53.2" rx="8"/>
<text class="t" x="1836" y="3922"><tspan x="1836">四、充分利用课外辅导,督促学生及时准确牢</tspan><tspan x="1836" dy="19.6">固地掌握好基础知识,针对不同</tspan></text></g>

<g id="r14"><rect class="bx" x="2176" y="3859" width="319" height="131.6" rx="8"/>
<text class="t" x="2184" y="3883"><tspan x="2184">学生的特点加强对个体学生的具体的学习方法</tspan><tspan x="2184" dy="19.6">和答题思路的指导。教学的根本目的是传承知</tspan><tspan x="2184" dy="19.6">识、创新知识和掌握科学的学习方法。学生基</tspan><tspan x="2184" dy="19.6">础薄弱,根本上说明学生在过去的学习中缺乏</tspan><tspan x="2184" dy="19.6">正确的方法--具体的表现为缺乏适合个性思维</tspan><tspan x="2184" dy="19.6">特点的学习方法。</tspan></text></g>

<g id="l1"><rect class="bx" x="1912" y="4025" width="208" height="34" rx="6"/><text class="t" x="1920" y="4047.5">★ 历史教学工作总结模板5篇</text></g>
<g id="l2"><rect class="bx" x="1912" y="4092" width="238" height="34" rx="6"/><text class="t" x="1920" y="4114.5">★ 初中历史教学工作总结范文5篇</text></g>
<g id="l3"><rect class="bx" x="1912" y="4159" width="268" height="34" rx="6"/><text class="t" x="1920" y="4181.5">★ 历史教师个人反思教学工作总结5篇</text></g>
<g id="l4"><rect class="bx" x="1912" y="4226" width="304" height="34" rx="6"/><text class="t" x="1920" y="4248.5">★ 初中历史教师2021教学工作总结范文5篇</text></g>
<g id="l5"><rect class="bx" x="1912" y="4293" width="238" height="34" rx="6"/><text class="t" x="1920" y="4315.5">★ 初二历史教师教学工作总结5篇</text></g>
<g id="l6"><rect class="bx" x="1912" y="4361" width="238" height="34" rx="6"/><text class="t" x="1920" y="4383.5">★ 历史教学教师学期工作总结5篇</text></g>
<g id="l7"><rect class="bx" x="1912" y="4428" width="245" height="34" rx="6"/><text class="t" x="1920" y="4450.5">★ 中学历史教师教学工作总结范文</text></g>
<g id="l8"><rect class="bx" x="1912" y="4496" width="289" height="34" rx="6"/><text class="t" x="1920" y="4518.5">★ 2021历史教师教学工作总结及反思5篇</text></g>
<g id="l9"><rect class="bx" x="1912" y="4563" width="238" height="34" rx="6"/><text class="t" x="1920" y="4585.5">★ 历史老师个人教学工作总结5篇</text></g>
<g id="l10"><rect class="bx" x="1912" y="4630" width="238" height="34" rx="6"/><text class="t" x="1920" y="4652.5">★ 历史教师教学年终工作总结5篇</text></g>
</g>
</svg>
